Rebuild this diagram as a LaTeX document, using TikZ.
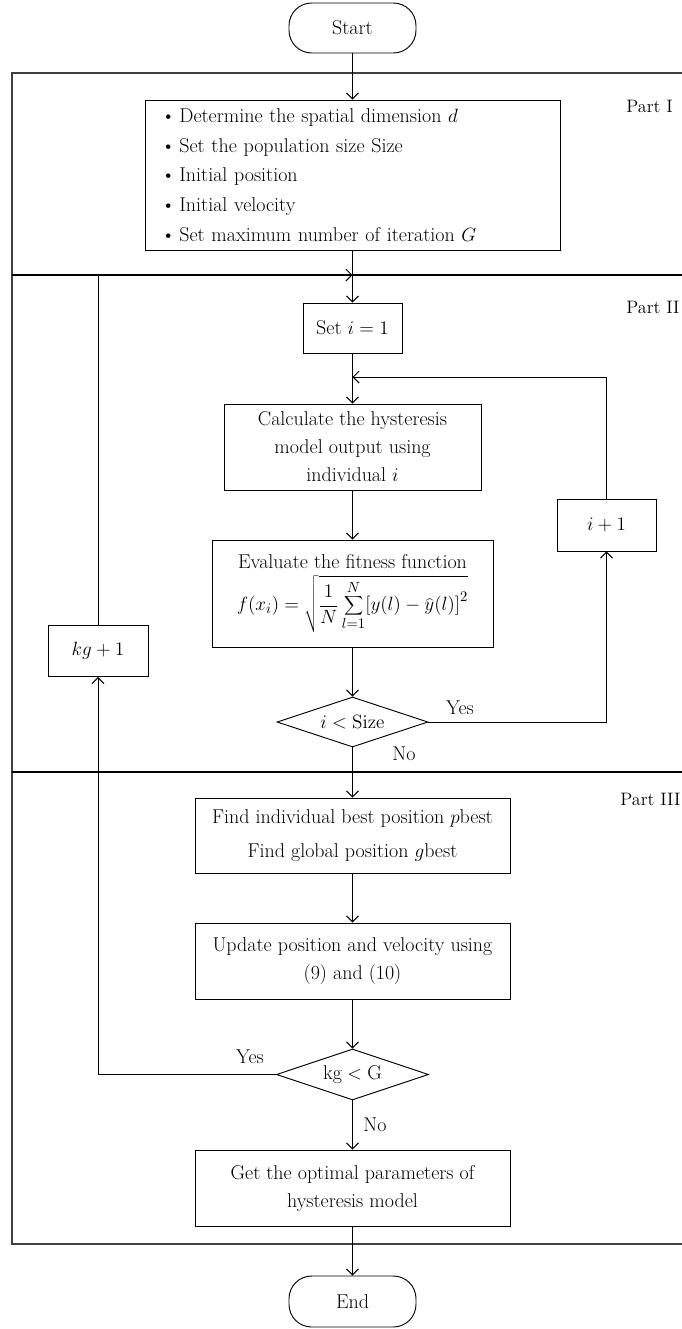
\documentclass[tikz,border=0pt]{standalone}
\usetikzlibrary{shapes.geometric,arrows.meta}
\begin{document}
\begin{tikzpicture}[x=0.75pt,y=-0.75pt,
  font=\fontsize{15}{21}\selectfont,
  line width=0.7pt,
  bw/.style={minimum width=#1*0.75pt},
  bh/.style={minimum height=#1*0.75pt},
  box/.style={draw, rectangle, inner sep=0pt, align=center},
  term/.style={draw, rectangle, rounded corners=17pt, inner sep=0pt},
  dec/.style={draw, diamond, aspect=3, inner sep=0pt},
  lbl/.style={inner sep=0pt},
  partlbl/.style={inner sep=0pt, anchor=west, font=\fontsize{13.5}{16}\selectfont},
  flow/.style={-{Straight Barb[length=4.5pt,width=9pt]}},
  sep/.style={line width=1.3pt},
  frame/.style={line width=0.8pt, draw=black!75}]
\useasboundingbox (0,0) rectangle (682,1329);

% frame and part separators
\draw[frame] (682,73) -- (12,73) -- (12,1244) -- (682,1244);
\draw[sep] (12,275) -- (682,275);
\draw[sep] (12,772) -- (682,772);
\node[partlbl] (partI) at (626,106) {Part I};
\node[partlbl] (partII) at (626,307) {Part II};
\node[partlbl] (partIII) at (620,799) {Part III};

% nodes
\node[term, bw=127, bh=50] (start) at (352.5,28) {Start};
\node[box, bw=415, bh=150, align=left, text width=383*0.75pt,
      font=\fontsize{15}{22.3}\selectfont] (p1) at (352.5,175)
  {\textbullet\kern3pt Determine the spatial dimension $d$\\
   \textbullet\kern3pt Set the population size Size\\
   \textbullet\kern3pt Initial position\\
   \textbullet\kern3pt Initial velocity\\
   \textbullet\kern3pt Set maximum number of iteration $G$};
\node[box, bw=99, bh=50] (seti) at (352.5,328) {Set $i=1$};
\node[box, bw=257, bh=86] (calc) at (352.5,447)
  {Calculate the hysteresis\\model output using\\individual $i$};
\node[box, bw=281, bh=107] (eval) at (352.5,593.5)
  {Evaluate the fitness function\\[4pt]
   $\displaystyle f(x_i)=\sqrt{\frac{1}{N}\sum_{l=1}^{N}\bigl[y(l)-\widehat{y}(l)\bigr]^2}$};
\node[dec, bw=151, bh=50] (d1) at (352.5,722) {$i<\mathrm{Size}$};
\node[box, bw=99, bh=52] (iplus) at (606.5,525) {$i+1$};
\node[box, bw=100, bh=51] (kgplus) at (98,651) {$kg+1$};
\node[box, bw=315, bh=75] (find) at (352.5,835.5)
  {Find individual best position $p$best\\[5pt]Find global position $g$best};
\node[box, bw=315, bh=76] (upd) at (352.5,961)
  {Update position and velocity using\\(9) and (10)};
\node[dec, bw=152, bh=51] (d2) at (352.5,1074.5) {kg${}<{}$G};
\node[box, bw=315, bh=76] (get) at (352.5,1188)
  {Get the optimal parameters of\\hysteresis model};
\node[term, bw=127, bh=51] (end) at (352.5,1301.5) {End};

% junctions
\coordinate (j1) at (352.5,275);
\coordinate (j2) at (352.5,377);

% connectors
\draw[flow] (start) -- (p1);
\draw (p1) -- (j1);
\draw[flow] (j1) -- (seti);
\draw[flow] (kgplus.north) |- (j1);
\draw (seti) -- (j2);
\draw[flow] (j2) -- (calc);
\draw[flow] (iplus.north) |- (j2);
\draw[flow] (calc) -- (eval);
\draw[flow] (eval) -- (d1);
\draw[flow] (d1.east) -| (iplus.south);
\draw[flow] (d1.south) -- (find.north);
\draw[flow] (find) -- (upd);
\draw[flow] (upd) -- (d2);
\draw[flow] (d2.west) -| (kgplus.south);
\draw[flow] (d2.south) -- (get.north);
\draw[flow] (get) -- (end);

% labels
\node[lbl] (yes1) at (460,708) {Yes};
\node[lbl] (no1) at (404,754) {No};
\node[lbl] (yes2) at (250,1057) {Yes};
\node[lbl] (no2) at (375,1125) {No};
\end{tikzpicture}
\end{document}
